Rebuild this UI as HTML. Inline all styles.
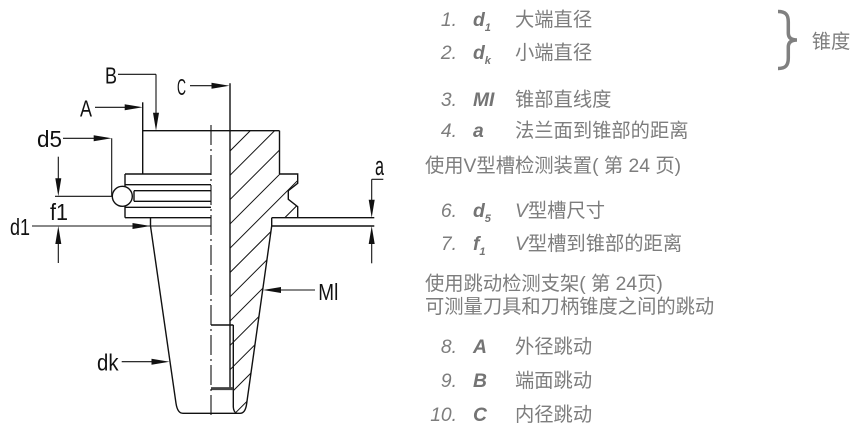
<!DOCTYPE html>
<html>
<head>
<meta charset="utf-8">
<style>
html,body{margin:0;padding:0;background:#fff;}
body{width:855px;height:429px;position:relative;overflow:hidden;}
svg{position:absolute;left:0;top:0;}
.t{position:absolute;font-family:"Liberation Sans","Noto Sans CJK SC",sans-serif;font-size:19.3px;line-height:20px;color:#7d7d7d;white-space:nowrap;}
.n{position:absolute;font-style:italic;text-align:right;width:40px;left:-56px;top:0;}
.l{position:absolute;left:0;top:0;font-style:italic;font-weight:bold;color:#747474;}
.l sub{font-size:11px;vertical-align:-5px;line-height:0;}
.c{position:absolute;left:42px;top:0;}
.row{position:absolute;left:473px;height:20px;width:380px;}
.v{font-style:italic;}
</style>
</head>
<body>
<svg width="855" height="429" viewBox="0 0 855 429" xmlns="http://www.w3.org/2000/svg">
  <defs>
    <clipPath id="hc">
      <polygon points="230,130.7 279.5,130.7 279.5,174 297.7,174 297.7,183.3 288.3,190.7 288.3,199.3 297.7,206.7 297.7,217.7 271.7,217.7 271.7,226 246.7,403.3 244,411.5 240,413.3 237,413.3 233.3,408 233.3,389 230,389"/>
    </clipPath>
  </defs>
  <!-- hatch -->
  <g clip-path="url(#hc)" stroke="#111" stroke-width="1">
    <line x1="215" y1="166" x2="320" y2="61"/>
    <line x1="215" y1="190.3" x2="320" y2="85.3"/>
    <line x1="215" y1="214.6" x2="320" y2="109.6"/>
    <line x1="215" y1="238.9" x2="320" y2="133.9"/>
    <line x1="215" y1="263.2" x2="320" y2="158.2"/>
    <line x1="215" y1="287.5" x2="320" y2="182.5"/>
    <line x1="215" y1="311.8" x2="320" y2="206.8"/>
    <line x1="215" y1="336.1" x2="320" y2="231.1"/>
    <line x1="215" y1="360.4" x2="320" y2="255.4"/>
    <line x1="215" y1="384.7" x2="320" y2="279.7"/>
    <line x1="215" y1="409" x2="320" y2="304"/>
    <line x1="215" y1="433.3" x2="320" y2="328.3"/>
  </g>

  <g fill="none" stroke="#111" stroke-width="1.4" stroke-linejoin="miter">
    <!-- body -->
    <line x1="142.7" y1="130.7" x2="279.5" y2="130.7"/>
    <line x1="142.7" y1="102.3" x2="142.7" y2="174"/>
    <line x1="279.5" y1="130.7" x2="279.5" y2="174"/>
    <!-- bore line -->
    <line x1="230" y1="83.3" x2="230" y2="389"/>
    <!-- flange left -->
    <line x1="125" y1="174" x2="211" y2="174"/>
    <line x1="125" y1="174" x2="125" y2="217.7"/>
    <line x1="125" y1="184.7" x2="211" y2="184.7"/>
    <line x1="134" y1="190.7" x2="211" y2="190.7"/>
    <line x1="134" y1="201.3" x2="211" y2="201.3"/>
    <line x1="134" y1="190.7" x2="134" y2="201.3"/>
    <line x1="125" y1="207.3" x2="211" y2="207.3"/>
    <line x1="125" y1="217.7" x2="211" y2="217.7"/>
    <!-- flange right -->
    <polyline points="279.5,174 297.7,174 297.7,183.3 288.3,190.7 288.3,199.3 297.7,206.7 297.7,217.7"/>
    <!-- extension lines a -->
    <line x1="271.7" y1="217.7" x2="374.3" y2="217.7"/>
    <line x1="271.7" y1="226" x2="374.3" y2="226"/>
    <!-- cone -->
    <path d="M150.5,217.7 L150.5,226 L176,403.3 Q177.5,413.3 183,413.3 L240,413.3 Q245.5,413.3 246.7,403.3 L271.7,226 L271.7,217.7"/>
    <!-- inner bottom -->
    <line x1="211" y1="325" x2="233.3" y2="325"/>
    <path d="M233.3,325 L233.3,407 Q233.6,412.5 237,413.3"/>
  </g>
  <line x1="211" y1="388.6" x2="233.3" y2="388.6" stroke="#444" stroke-width="3"/>

  <!-- centerline -->
  <line x1="211" y1="125" x2="211" y2="417" stroke="#111" stroke-width="1.1" stroke-dasharray="20 4 2 4"/>

  <!-- V-groove ball -->
  <circle cx="122.3" cy="196.3" r="10" fill="#fff" stroke="#111" stroke-width="1.4"/>

  <!-- dimension / leader lines -->
  <g stroke="#111" stroke-width="1.1" fill="none">
    <line x1="118" y1="74.3" x2="156" y2="74.3"/>
    <line x1="156" y1="74.3" x2="156" y2="115"/>
    <line x1="190" y1="85.7" x2="214" y2="85.7"/>
    <line x1="95" y1="107.3" x2="126" y2="107.3"/>
    <line x1="63" y1="138.3" x2="96" y2="138.3"/>
    <line x1="111.7" y1="138.3" x2="111.7" y2="196.3"/>
    <line x1="55" y1="196.3" x2="112.3" y2="196.3"/>
    <line x1="58.3" y1="156.7" x2="58.3" y2="180"/>
    <line x1="58.3" y1="242" x2="58.3" y2="263"/>
    <line x1="32" y1="226" x2="211" y2="226"/>
    <line x1="371.7" y1="179.3" x2="383.3" y2="179.3"/>
    <line x1="371.7" y1="179.3" x2="371.7" y2="202"/>
    <line x1="371.7" y1="242" x2="371.7" y2="263.3"/>
    <line x1="121.7" y1="361.7" x2="153" y2="361.7"/>
    <line x1="279" y1="290" x2="315" y2="290"/>
  </g>

  <!-- arrowheads -->
  <g fill="#111" stroke="none">
    <polygon points="156,130.7 153,112.7 159,112.7"/>
    <polygon points="229.5,85.7 211.5,82.7 211.5,88.7"/>
    <polygon points="142.7,107.3 124.7,104.3 124.7,110.3"/>
    <polygon points="111.7,138.3 93.7,135.3 93.7,141.3"/>
    <polygon points="58.3,196.3 55.3,178.3 61.3,178.3"/>
    <polygon points="58.3,226 55.3,244 61.3,244"/>
    <polygon points="150.5,226 132.5,223 132.5,229"/>
    <polygon points="371.7,217.7 368.7,199.7 374.7,199.7"/>
    <polygon points="371.7,226 368.7,244 374.7,244"/>
    <polygon points="169.5,361.7 151.5,358.7 151.5,364.7"/>
    <polygon points="263,290 281,287 281,293"/>
  </g>

  <!-- drawing labels -->
  <g font-family="Liberation Sans, sans-serif" font-size="23" fill="#111">
    <text x="105" y="83.3" textLength="12" lengthAdjust="spacingAndGlyphs">B</text>
    <text x="177" y="95" textLength="9" lengthAdjust="spacingAndGlyphs">C</text>
    <text x="80" y="116.7" textLength="12" lengthAdjust="spacingAndGlyphs">A</text>
    <text x="37" y="147" textLength="25" lengthAdjust="spacingAndGlyphs">d5</text>
    <text x="50" y="220" textLength="18" lengthAdjust="spacingAndGlyphs">f1</text>
    <text x="10" y="235" textLength="20" lengthAdjust="spacingAndGlyphs">d1</text>
    <text x="97" y="370.7" textLength="21.5" lengthAdjust="spacingAndGlyphs">dk</text>
    <text x="318.3" y="300" textLength="20" lengthAdjust="spacingAndGlyphs">Ml</text>
    <text x="375" y="175" font-size="27" textLength="9" lengthAdjust="spacingAndGlyphs">a</text>
  </g>

  <!-- brace -->
  <path d="M778,11.5 C785.5,11.5 788.3,14.5 788.3,22 L788.3,33 C788.3,37.5 791,40 797,40 C791,40 788.3,42.5 788.3,47 L788.3,58 C788.3,65.5 785.5,68.5 778,68.5" fill="none" stroke="#808080" stroke-width="3.5"/>
</svg>

<!-- right-side text -->
<div class="t row" style="top:10.5px;"><span class="n">1.</span><span class="l">d<sub>1</sub></span><span class="c">大端直径</span></div>
<div class="t row" style="top:43.8px;"><span class="n">2.</span><span class="l">d<sub>k</sub></span><span class="c">小端直径</span></div>
<div class="t" style="left:811.7px;top:33px;">锥度</div>
<div class="t row" style="top:90.5px;"><span class="n">3.</span><span class="l">MI</span><span class="c">锥部直线度</span></div>
<div class="t row" style="top:122.2px;"><span class="n">4.</span><span class="l">a</span><span class="c">法兰面到锥部的距离</span></div>
<div class="t" style="left:425px;top:156.5px;">使用V型槽检测装置( 第 24 页)</div>
<div class="t row" style="top:201.5px;"><span class="n">6.</span><span class="l">d<sub>5</sub></span><span class="c"><span class="v">V</span>型槽尺寸</span></div>
<div class="t row" style="top:234.5px;"><span class="n">7.</span><span class="l">f<sub>1</sub></span><span class="c"><span class="v">V</span>型槽到锥部的距离</span></div>
<div class="t" style="left:425px;top:274.5px;">使用跳动检测支架( 第 24页)</div>
<div class="t" style="left:425px;top:297.5px;">可测量刀具和刀柄锥度之间的跳动</div>
<div class="t row" style="top:337.5px;"><span class="n">8.</span><span class="l">A</span><span class="c">外径跳动</span></div>
<div class="t row" style="top:371.5px;"><span class="n">9.</span><span class="l">B</span><span class="c">端面跳动</span></div>
<div class="t row" style="top:405.5px;"><span class="n">10.</span><span class="l">C</span><span class="c">内径跳动</span></div>
</body>
</html>
